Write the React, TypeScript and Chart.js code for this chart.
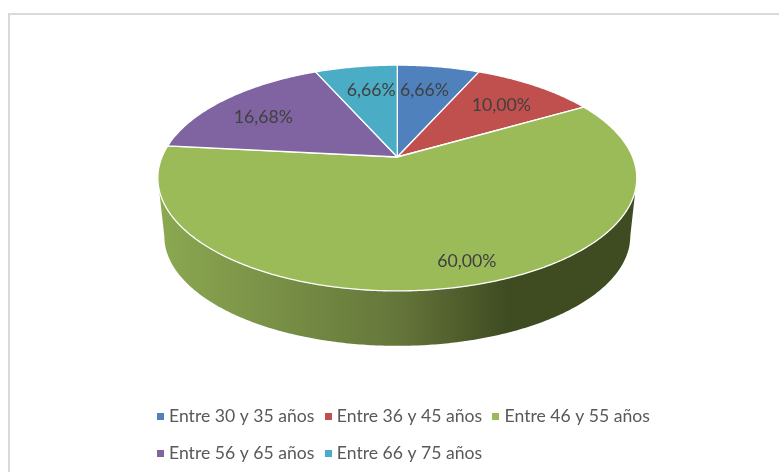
import React, { useEffect, useRef } from "react";
import { Chart, PieController, ArcElement, Legend } from "chart.js";

const categories = [
  "Entre 30 y 35 años",
  "Entre 36 y 45 años",
  "Entre 46 y 55 años",
  "Entre 56 y 65 años",
  "Entre 66 y 75 años",
];
const shares = [6.66, 10.0, 60.0, 16.68, 6.66];
const colours = ["#4f81bd", "#c0504d", "#9bbb59", "#8064a2", "#4bacc6"];
const labelNudgeX = [-4, 1, 29, -7, 5];
const labelNudgeY = [1, 1, 16, 3, 1];

// Perspective model of the tilted disc
const CX = 397.3, CY = 157, RX = 235.3, RY = 109, K = 0.186;
const RIM_CENTER_Y = 178, WALL_CENTER_Y = 236, WALL_SCALE = 0.973;
const WALL_FROM = Math.acos(-K), WALL_TO = 2 * Math.PI - Math.acos(-K);

function project(theta: number, f = 1): [number, number] {
  const u = Math.sin(theta) * f, v = Math.cos(theta) * f, d = 1 + K * v;
  return [CX + (RX * u) / d, CY - (RY * v) / d];
}
function lower(p: [number, number]): [number, number] {
  return [CX + (p[0] - CX) * WALL_SCALE, WALL_CENTER_Y + (p[1] - RIM_CENTER_Y) * WALL_SCALE];
}

// Draw the library's arc elements on the tilted disc; angles come from the pie controller.
(ArcElement.prototype as any).draw = function (ctx: CanvasRenderingContext2D) {
  const a0 = this.startAngle + Math.PI / 2, a1 = this.endAngle + Math.PI / 2;
  const o = this.options;
  const w0 = Math.max(a0, WALL_FROM), w1 = Math.min(a1, WALL_TO);
  ctx.save();
  if (w1 > w0) {
    const g = ctx.createLinearGradient(160, 0, 636, 0);
    g.addColorStop(0, "#8ba851");
    g.addColorStop(0.5, "#65763a");
    g.addColorStop(0.73, "#3f4b21");
    g.addColorStop(1, "#3f4b21");
    ctx.fillStyle = g;
    ctx.beginPath();
    const n = Math.ceil((w1 - w0) / 0.01);
    for (let i = 0; i < n; i++) {
      const t0 = w0 + ((w1 - w0) * i) / n, t1 = w0 + ((w1 - w0) * (i + 1)) / n;
      const p0 = project(t0), p1 = project(t1), q0 = lower(p0), q1 = lower(p1);
      ctx.moveTo(p0[0], p0[1]);
      ctx.lineTo(p1[0], p1[1]);
      ctx.lineTo(q1[0], q1[1]);
      ctx.lineTo(q0[0], q0[1]);
      ctx.closePath();
    }
    ctx.fill("nonzero");
  }
  ctx.beginPath();
  ctx.moveTo(CX, CY);
  const steps = Math.ceil((a1 - a0) / 0.01);
  for (let i = 0; i <= steps; i++) {
    const p = project(a0 + ((a1 - a0) * i) / steps);
    ctx.lineTo(p[0], p[1]);
  }
  ctx.closePath();
  ctx.fillStyle = o.backgroundColor;
  ctx.fill();
  ctx.lineJoin = "round";
  ctx.strokeStyle = o.borderColor;
  ctx.lineWidth = o.borderWidth;
  ctx.stroke();
  ctx.restore();
};

const framePlugin = {
  id: "frame",
  beforeDraw(chart: any) {
    const { ctx, width, height } = chart;
    ctx.save();
    ctx.fillStyle = "#ffffff";
    ctx.fillRect(0, 0, width, height);
    ctx.strokeStyle = "#d9d9d9";
    ctx.lineWidth = 2;
    ctx.beginPath();
    ctx.moveTo(9, height);
    ctx.lineTo(9, 14);
    ctx.lineTo(width, 14);
    ctx.stroke();
    ctx.restore();
  },
};

const valueLabelPlugin = {
  id: "valueLabels",
  afterDatasetsDraw(chart: any) {
    const { ctx } = chart;
    const arcs = chart.getDatasetMeta(0).data;
    ctx.save();
    ctx.font = "17.7px Lato";
    ctx.fillStyle = "#404040";
    ctx.textAlign = "center";
    ctx.textBaseline = "middle";
    arcs.forEach((arc: any, i: number) => {
      const mid = (arc.startAngle + arc.endAngle) / 2 + Math.PI / 2;
      const p = project(mid, 0.72);
      const text = shares[i].toFixed(2).replace(".", ",") + "%";
      ctx.fillText(text, p[0] + labelNudgeX[i], p[1] + labelNudgeY[i]);
    });
    ctx.restore();
  },
};

// Legend squares, placed from the legend's own item boxes.
const legendSwatchPlugin = {
  id: "legendSwatches",
  afterDraw(chart: any) {
    const { ctx, legend } = chart;
    ctx.save();
    legend.legendHitBoxes.forEach((box: any, i: number) => {
      ctx.fillStyle = legend.legendItems[i].fillStyle;
      ctx.fillRect(Math.round(box.left - 9.2), Math.round(box.top + box.height / 2 - 3.5), 7, 7);
    });
    ctx.restore();
  },
};

Chart.register(PieController, ArcElement, Legend);

export default function App() {
  const ref = useRef<HTMLCanvasElement | null>(null);
  useEffect(() => {
    const chart = new Chart(ref.current as HTMLCanvasElement, {
      type: "pie",
      data: {
        labels: categories,
        datasets: [
          {
            data: shares,
            backgroundColor: colours,
            borderColor: "#ffffff",
            borderWidth: 1.3,
          },
        ],
      },
      options: {
        responsive: false,
        animation: false,
        layout: { padding: { left: 146.5, right: 79, top: 20, bottom: 0 } },
        plugins: {
          tooltip: { enabled: false },
          legend: {
            position: "bottom",
            align: "start",
            labels: {
              usePointStyle: true,
              pointStyleWidth: -5.7,
              boxHeight: 7,
              padding: 19.4,
              color: "#595959",
              font: { family: "Lato", size: 17.6, lineHeight: 1 },
            },
          },
        },
      },
      plugins: [framePlugin, valueLabelPlugin, legendSwatchPlugin],
    } as any);
    return () => chart.destroy();
  }, []);
  return (
    <div style={{ position: "absolute", left: 0, top: 0, width: 779, height: 472 }}>
      <canvas ref={ref} width={779} height={472} style={{ display: "block" }} />
    </div>
  );
}
